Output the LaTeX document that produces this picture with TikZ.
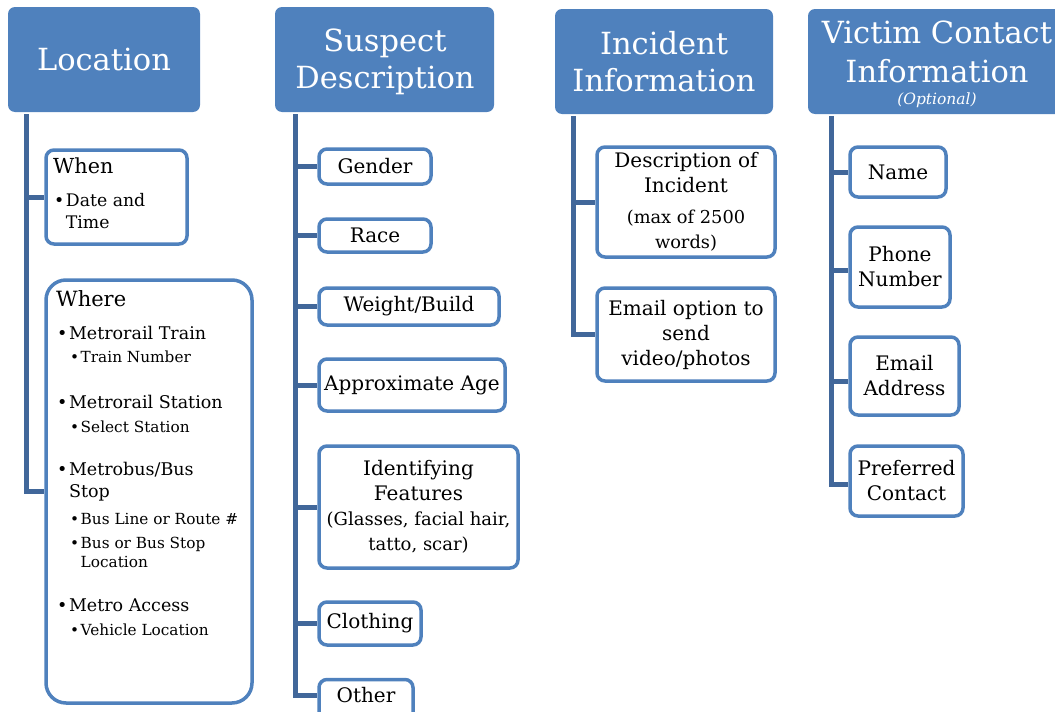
\documentclass[tikz,border=0pt]{standalone}
\usepackage{fontspec}
\setmainfont{DejaVu Serif}
\definecolor{hdrblue}{HTML}{4F81BD}
\definecolor{connblue}{HTML}{41679A}
\newcommand\fs[2]{\fontsize{#1}{#2}\selectfont}
\tikzset{
  hdrbox/.style={fill=hdrblue, draw=none, rounded corners=7pt, text=white, align=center, inner sep=0pt, font=\fs{30.5}{37}},
  childbox/.style={draw=hdrblue, line width=3.5pt, fill=white, rounded corners=8pt, align=center, inner sep=0pt, font=\fs{20}{25}},
  conn/.style={draw=connblue, line width=5pt},
  lefttxt/.style={anchor=west, inner sep=0pt, align=left}
}
\newcommand\bul{•\hspace{1.5pt}}
\begin{document}
\begin{tikzpicture}[x=1pt,y=-1pt]
\useasboundingbox (0,0) rectangle (1055,712);
% headers
\node[hdrbox, minimum width=192, minimum height=105] (loc) at (104,59.5) {Location};
\node[hdrbox, minimum width=219, minimum height=105] (sus) at (384.5,59.5) {};
\node[align=center, inner sep=0pt, text=white, font=\fs{30.5}{37}] (sust) at (385,62) {Suspect\\Description};
\node[hdrbox, minimum width=218, minimum height=105] (inc) at (664,61.5) {Incident\\Information};
\node[hdrbox, minimum width=258, minimum height=105] (vic) at (937,61.5) {};
\node[align=center, inner sep=0pt, text=white, font=\fs{30.5}{39}] (victxt) at (937,52) {Victim Contact\\Information};
\node[inner sep=0pt, text=white, font=\fs{15.5}{17}\itshape] (vicopt) at (937,100) {(Optional)};
% connector roots
\coordinate (l0) at (26,114);
\coordinate (s0) at (295,114);
\coordinate (i0) at (573,116);
\coordinate (v0) at (831,116);
% Location children
\node[childbox, minimum width=141, minimum height=94] (when) at (116.5,197) {};
\node[childbox, minimum width=206, minimum height=423, rounded corners=20pt] (where) at (149,491.5) {};
\draw[conn] (l0) |- (when.west);
\draw[conn] (l0) |- (where.west);
\node[lefttxt, font=\fs{20.7}{24}] (whent) at (53,166) {When};
\node[lefttxt, font=\fs{17.3}{22}] (whenb) at (54,211) {\bul Date and\\\phantom{\bul}Time};
\node[lefttxt, font=\fs{21}{24}] (wheret) at (56,299) {Where};
\node[lefttxt, font=\fs{17.5}{20}] (w1) at (57,333) {\bul Metrorail Train};
\node[lefttxt, font=\fs{15.3}{18}] (w1a) at (70,357) {\bul Train Number};
\node[lefttxt, font=\fs{17.5}{20}] (w2) at (57,402) {\bul Metrorail Station};
\node[lefttxt, font=\fs{15.3}{18}] (w2a) at (70,427) {\bul Select Station};
\node[lefttxt, font=\fs{17.5}{22}] (w3) at (57,482) {\bul Metrobus/Bus\\\phantom{\bul}Stop};
\node[lefttxt, font=\fs{15.3}{18}] (w3a) at (70,519) {\bul Bus Line or Route \#};
\node[lefttxt, font=\fs{15.3}{19}] (w3b) at (70,552) {\bul Bus or Bus Stop\\\phantom{\bul}Location};
\node[lefttxt, font=\fs{17.5}{20}] (w4) at (57,605) {\bul Metro Access};
\node[lefttxt, font=\fs{15.3}{18}] (w4a) at (70,630) {\bul Vehicle Location};
% Suspect children
\node[childbox, minimum width=112, minimum height=35] (gender) at (375,166.5) {Gender};
\node[childbox, minimum width=112, minimum height=33] (race) at (375,235.5) {Race};
\node[childbox, minimum width=180, minimum height=37] (weight) at (409,306.5) {Weight/Build};
\node[childbox, minimum width=186, minimum height=52] (age) at (412,385) {Approximate Age};
\node[childbox, minimum width=199, minimum height=122] (ident) at (418.5,507) {Identifying\\Features\\{\fs{18}{24}(Glasses, facial hair,}\\{\fs{18}{23}tatto, scar)}};
\node[childbox, minimum width=102, minimum height=43] (cloth) at (370,623.5) {Clothing};
\node[childbox, minimum width=94, minimum height=51] (other) at (366,705) {};
\node[inner sep=0pt, font=\fs{20}{25}] (othert) at (366,695) {Other};
\draw[conn] (s0) |- (gender.west);
\draw[conn] (s0) |- (race.west);
\draw[conn] (s0) |- (weight.west);
\draw[conn] (s0) |- (age.west);
\draw[conn] (s0) |- (ident.west);
\draw[conn] (s0) |- (cloth.west);
\draw[conn] (s0) |- (other.west |- othert);
% Incident children
\node[childbox, minimum width=178, minimum height=110] (desc) at (686,202) {Description of\\Incident\\[6pt]{\fs{17.8}{22}(max of 2500}\\{\fs{17.8}{22}words)}};
\node[childbox, minimum width=178, minimum height=93] (emailopt) at (686,334.5) {Email option to\\send\\video/photos};
\draw[conn] (i0) |- (desc.west);
\draw[conn] (i0) |- (emailopt.west);
% Victim children
\node[childbox, minimum width=96, minimum height=50] (name) at (898,172) {Name};
\node[childbox, minimum width=100, minimum height=80] (phone) at (900,267) {Phone\\Number};
\node[childbox, minimum width=109, minimum height=78] (emailaddr) at (904.5,376) {Email\\Address};
\node[childbox, minimum width=113, minimum height=70] (pref) at (906.5,481) {Preferred\\Contact};
\draw[conn] (v0) |- (name.west);
\draw[conn] (v0) |- ([yshift=-3pt]phone.west);
\draw[conn] (v0) |- ([yshift=-5pt]emailaddr.west);
\draw[conn] (v0) |- ([yshift=-3pt]pref.west);
\end{tikzpicture}
\end{document}
